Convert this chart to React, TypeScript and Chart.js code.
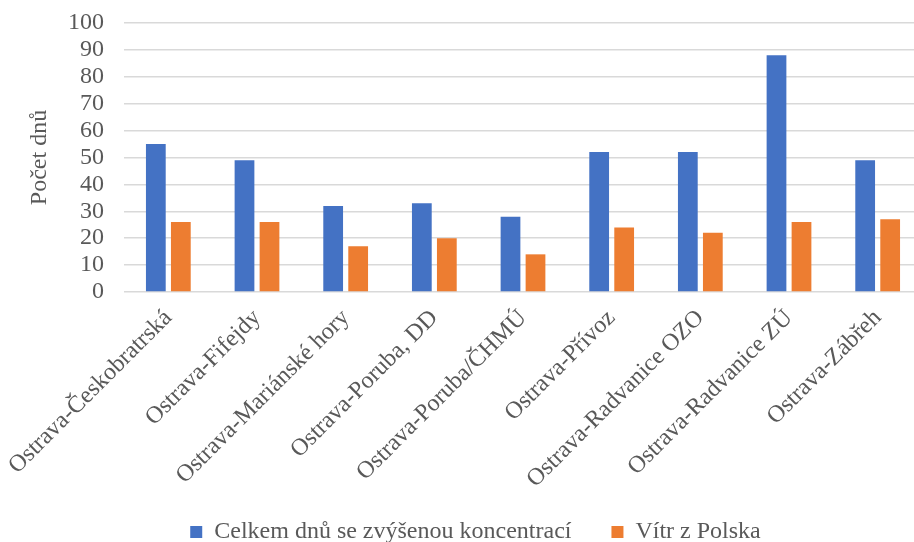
import { useEffect, useRef } from "react";
import { Chart, registerables } from "chart.js";

Chart.register(...registerables);

// Monitoring stations in Ostrava
const stations = [
  "Ostrava-Českobratrská",
  "Ostrava-Fifejdy",
  "Ostrava-Mariánské hory",
  "Ostrava-Poruba, DD",
  "Ostrava-Poruba/ČHMÚ",
  "Ostrava-Přívoz",
  "Ostrava-Radvanice OZO",
  "Ostrava-Radvanice ZÚ",
  "Ostrava-Zábřeh",
];

// Days with elevated concentration, total
const totalDays = [55, 49, 32, 33, 28, 52, 52, 88, 49];
// Of those, days with wind blowing from Poland
const windFromPoland = [26, 26, 17, 20, 14, 24, 22, 26, 27];

const seriesNames = ["Celkem dnů se zvýšenou koncentrací", "Vítr z Polska"];
const axisTitle = "Počet dnů";
const yMin = 0;
const yMax = 100;
const yStep = 10;

const FONT = "'Liberation Serif', 'Times New Roman', serif";
const TEXT = "#595959";
const GRID = "#d9d9d9";

const CANVAS_W = 960;
const CANVAS_H = 554;
const PAD_LEFT = 29;
const PLOT_LEFT = 124;

export default function App() {
  const canvasRef = useRef<HTMLCanvasElement | null>(null);

  useEffect(() => {
    const canvas = canvasRef.current;
    if (!canvas) return;

    const chart = new Chart(canvas, {
      type: "bar",
      data: {
        labels: stations,
        datasets: [
          {
            label: seriesNames[0],
            data: totalDays,
            backgroundColor: "#4472C4",
            categoryPercentage: 0.564,
            barPercentage: 0.79,
          },
          {
            label: seriesNames[1],
            data: windFromPoland,
            backgroundColor: "#ED7D31",
            categoryPercentage: 0.564,
            barPercentage: 0.79,
          },
        ],
      },
      options: {
        responsive: false,
        animation: false,
        layout: { padding: { left: PAD_LEFT, right: CANVAS_W - 922, top: 23, bottom: 0 } },
        plugins: {
          tooltip: { enabled: false },
          legend: {
            position: "bottom",
            labels: {
              boxWidth: 12,
              boxHeight: 12,
              padding: 40,
              color: TEXT,
              font: { family: FONT, size: 24 },
            },
          },
        },
        scales: {
          x: {
            grid: { display: false },
            border: { display: false },
            ticks: {
              autoSkip: false,
              maxRotation: 45,
              minRotation: 45,
              padding: 4,
              labelOffset: 0,
              color: TEXT,
              font: { family: FONT, size: 24 },
            },
            afterFit: (scale: any) => {
              scale.height = 188;
              scale.paddingLeft = 0;
              scale.paddingRight = 0;
              // long rotated station names may run slightly into the legend band
              scale._computeLabelArea = () => undefined;
            },
          },
          y: {
            min: yMin,
            max: yMax,
            border: { display: false },
            grid: { color: GRID, lineWidth: 1.5, drawTicks: false },
            ticks: {
              autoSkip: false,
              stepSize: yStep,
              padding: 20,
              color: TEXT,
              font: { family: FONT, size: 24 },
            },
            title: {
              display: true,
              text: axisTitle,
              color: TEXT,
              font: { family: FONT, size: 24 },
              padding: { top: -4, bottom: 0 },
            },
            afterFit: (scale: any) => {
              scale.width = PLOT_LEFT - PAD_LEFT;
              scale.paddingTop = 0;
              scale.paddingBottom = 0;
            },
          },
        },
      },
    });

    return () => chart.destroy();
  }, []);

  return (
    <div
      style={{
        position: "absolute",
        left: 0,
        top: 0,
        width: 914,
        height: 542,
        overflow: "hidden",
        background: "#fff",
      }}
    >
      <canvas
        ref={canvasRef}
        width={CANVAS_W}
        height={CANVAS_H}
        style={{ width: CANVAS_W, height: CANVAS_H, display: "block" }}
      />
    </div>
  );
}
